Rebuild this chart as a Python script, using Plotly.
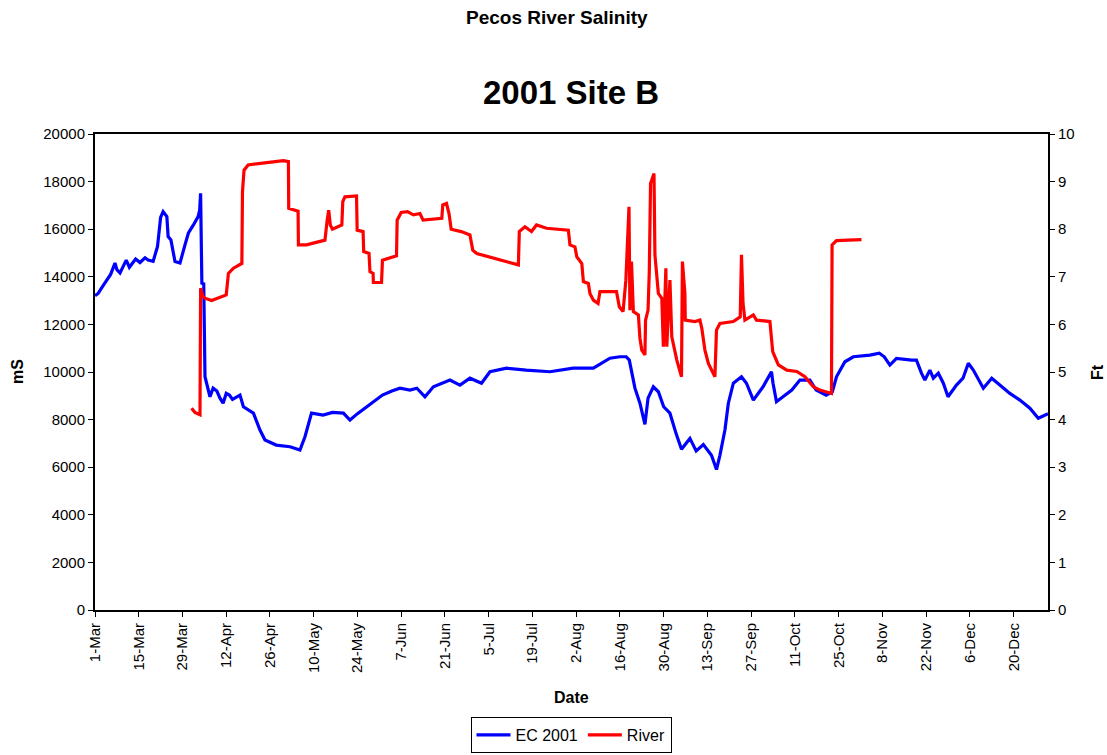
import pandas as pd
import plotly.graph_objects as go

START = pd.Timestamp("2001-03-01")

# EC 2001 (mS) : day offset from 1-Mar, value
ec_days = [0, 1, 2.7, 4, 5, 6.4, 7, 8, 10, 11, 12, 13, 14.4, 16, 17, 18.6, 20, 21, 21.8, 23, 23.4, 24.3, 25.6,
           27.2, 28.8, 29.9, 31.5, 33, 33.5, 33.8, 34.2, 34.8, 35.2, 36.8, 37.8, 39, 40, 41, 42, 43, 44, 46.4,
           47.5, 50.7, 52.8, 54.4, 58, 62.4, 65.6, 67.2, 69.3, 73, 76, 79.5, 81.6, 84, 87, 92, 95,
           97.6, 100.8, 103, 105.6, 108.3, 113.6, 116.8, 120, 123.7, 126.4, 131.7, 138, 145.6, 153,
           159.5, 164.8, 168, 170, 171, 172.8, 174.4, 176, 177, 178.7, 180.3, 182, 184, 186, 187.7,
           190.4, 192.4, 194.7, 197.3, 198.9, 200, 201.6, 202.7, 204.3, 206.9, 208.5, 210.7, 213.8,
           216.5, 217, 218.1, 223, 225.6, 228.8, 230.8, 234, 236, 237.3, 240, 242.7, 248, 251,
           252.6, 254.4, 256.5, 261.3, 262.9, 264.5, 265.6, 267.2, 268.3, 269.9, 271.5, 273, 275.7,
           277.8, 279.5, 281.1, 284.3, 287, 289.6, 292.8, 296, 299.2, 301.9, 304, 305]
ec_vals = [13200, 13300, 13650, 13900, 14100, 14580, 14300, 14160, 14700, 14400, 14600, 14750, 14600, 14800,
           14700, 14650,
           15270, 16500, 16740, 16530, 15690, 15550, 14640, 14580, 15340, 15840, 16180, 16530, 16800,
           17510, 13730, 13700, 9800, 8960, 9320, 9200, 8900, 8690, 9100, 9030, 8850, 9030, 8540, 8270, 7560, 7140,
           6930, 6860, 6720, 7280, 8270, 8190, 8300, 8270, 7980, 8250, 8540, 9030, 9200, 9320, 9240,
           9320, 8960, 9380, 9660, 9450, 9740, 9530, 10010, 10160, 10080, 10010, 10160, 10160, 10580,
           10640, 10640, 10500, 9320, 8690, 7800, 8900, 9380, 9170, 8540, 8270, 7400, 6750, 7210,
           6680, 6950, 6500, 5900, 6500, 7560, 8690, 9530, 9800, 9530, 8820, 9380, 10010, 9530,
           8750, 9240, 9660, 9660, 9240, 9030, 9170, 9800, 10430, 10640, 10710, 10790, 10640, 10290,
           10570, 10500, 10500, 9950, 9660, 10080, 9740, 9950, 9530, 8960, 9450, 9740, 10370, 10080,
           9320, 9740, 9450, 9100, 8820, 8480, 8060, 8190, 8250]

# River (Ft)
rv_days = [30.9, 32, 33.6, 33.8, 34.5, 35.2, 37.3, 42, 42.7, 44.3, 47, 47.2, 47.7, 49, 55, 60.3, 61.9,
           62, 65, 65.1, 67.7, 73.6, 74.3, 74.8, 75.3, 76, 79, 79.3, 80, 83.7, 83.9, 85.8, 86, 87.7,
           88, 89, 89.1, 91.7, 92, 96.5, 96.7, 98, 100, 101.9, 104, 105, 111, 111.3, 112.5, 113.3,
           114, 117.2, 120, 120.9, 122.2, 129.6, 135.5, 135.8, 137.6, 139.7, 141.3, 144.5, 151.5,
           152, 153.6, 154.2, 155.8, 156.3, 157.9, 158.4, 159.5, 161, 161.6, 166.9, 167.8, 169,
           169.9, 170.9, 171.2, 171.7, 172.3, 173.9, 174.4, 175, 176, 176.2, 177, 177.4, 177.8,
           178.9, 179.2, 180.3, 181.4, 181.9, 182.7, 183, 184, 184.6, 186.2, 187.7, 188, 188.8,
           188.9, 192, 193.6, 194.2, 195.2, 196.3, 198.4, 198.9, 200, 204.3, 206.5, 206.9, 207.4,
           208, 210.7, 211.7, 216, 216.9, 218.7, 221.4, 224.6, 227.2, 229.9, 232, 235.7, 235.9,
           237.3, 241, 245.3]
rv_vals = [4.24, 4.15, 4.10, 6.76, 6.60, 6.55, 6.50, 6.62, 7.07, 7.18, 7.28, 8.79, 9.24, 9.35, 9.40,
           9.44, 9.42, 8.44, 8.38, 7.67, 7.67, 7.77, 8.19, 8.40, 8.09, 8.00, 8.09, 8.58, 8.68, 8.70,
           7.98, 7.95, 7.53, 7.49, 7.11, 7.07, 6.88, 6.88, 7.35, 7.44, 8.19, 8.35, 8.37, 8.30, 8.33,
           8.19, 8.23, 8.51, 8.54, 8.33, 8.00, 7.95, 7.88, 7.56, 7.49, 7.35, 7.25, 7.95, 8.05, 7.95,
           8.09, 8.02, 7.98, 7.67, 7.63, 7.42, 7.28, 6.90, 6.86, 6.65, 6.51, 6.44, 6.69, 6.69, 6.37,
           6.27, 6.93, 8.47, 6.30, 7.32, 6.27, 6.20, 5.71, 5.46, 5.36, 6.09, 6.30, 7.11, 8.96, 9.17,
           7.46, 6.65, 6.55, 5.53, 7.18, 5.53, 6.93, 5.74, 5.25, 4.90, 7.32, 6.65, 6.09, 6.06, 6.09,
           5.92, 5.46, 5.18, 4.90, 5.88, 6.02, 6.06, 6.16, 7.46, 6.44, 6.09, 6.20, 6.09, 6.06, 5.43,
           5.15, 5.04, 5.01, 4.90, 4.69, 4.62, 4.55, 7.67, 7.76, 7.77, 7.78]

ec_x = [START + pd.Timedelta(days=d) for d in ec_days]
rv_x = [START + pd.Timedelta(days=d) for d in rv_days]

FONT = "Liberation Sans, Arial, sans-serif"
PL, PR, PT, PB = 95, 1048, 134, 610


def px_x(x):
    return (x - PL) / (PR - PL)


def px_y(y):
    return (PB - y) / (PB - PT)


fig = go.Figure()
fig.add_trace(go.Scatter(x=ec_x, y=ec_vals, mode="lines", name="EC 2001",
                         line=dict(color="#0000FF", width=3.2)))
fig.add_trace(go.Scatter(x=rv_x, y=rv_vals, mode="lines", name="River", yaxis="y2",
                         line=dict(color="#FF0000", width=3.2)))

fig.update_layout(
    width=1107, height=755,
    margin=dict(l=PL, r=1107 - PR, t=PT, b=755 - PB, autoexpand=False),
    paper_bgcolor="white", plot_bgcolor="white",
    font=dict(family=FONT, size=15, color="black"),
    xaxis=dict(
        type="date", range=["2001-03-01", "2001-12-31"], automargin=False,
        tick0="2001-03-01", dtick=14 * 86400000, tickformat="%-d-%b", tickangle=-90,
        ticks="outside", ticklen=5, tickcolor="black", showgrid=False, zeroline=False,
        showline=True, linecolor="black", linewidth=2, mirror=True,
        tickfont=dict(size=15),
    ),
    yaxis=dict(
        range=[0, 20000], dtick=2000, tickformat="d", ticks="outside", ticklen=5,
        tickcolor="black", automargin=False,
        showgrid=False, zeroline=False, showline=True, linecolor="black", linewidth=2,
        tickfont=dict(size=15),
    ),
    yaxis2=dict(
        range=[0, 10], dtick=1, overlaying="y", side="right", ticks="outside", ticklen=5,
        tickcolor="black", showgrid=False, zeroline=False, showline=True, linecolor="black",
        linewidth=2, tickfont=dict(size=15), automargin=False,
    ),
    showlegend=True,
    legend=dict(orientation="h", x=px_x(571), xanchor="center", y=px_y(753), yanchor="bottom",
                bordercolor="black", borderwidth=1, font=dict(size=16),
                itemwidth=34, tracegroupgap=0),
    annotations=[
        dict(text="<b>Pecos River Salinity</b>", x=px_x(557), y=px_y(17), showarrow=False,
             font=dict(size=19)),
        dict(text="<b>2001 Site B</b>", x=px_x(571), y=px_y(92), showarrow=False,
             font=dict(size=33)),
        dict(text="<b>mS</b>", x=px_x(17), y=px_y(372), showarrow=False, textangle=-90,
             font=dict(size=16)),
        dict(text="<b>Ft</b>", x=px_x(1097), y=px_y(372), showarrow=False, textangle=-90,
             font=dict(size=16)),
        dict(text="<b>Date</b>", x=px_x(571), y=px_y(697), showarrow=False, font=dict(size=16)),
    ],
)
for a in fig.layout.annotations:
    a.xref = "paper"
    a.yref = "paper"
    a.xanchor = "center"
    a.yanchor = "middle"

fig.write_html("out.html", config={"displayModeBar": False},
               post_script="document.body.style.margin='0';document.body.style.overflow='hidden';")
